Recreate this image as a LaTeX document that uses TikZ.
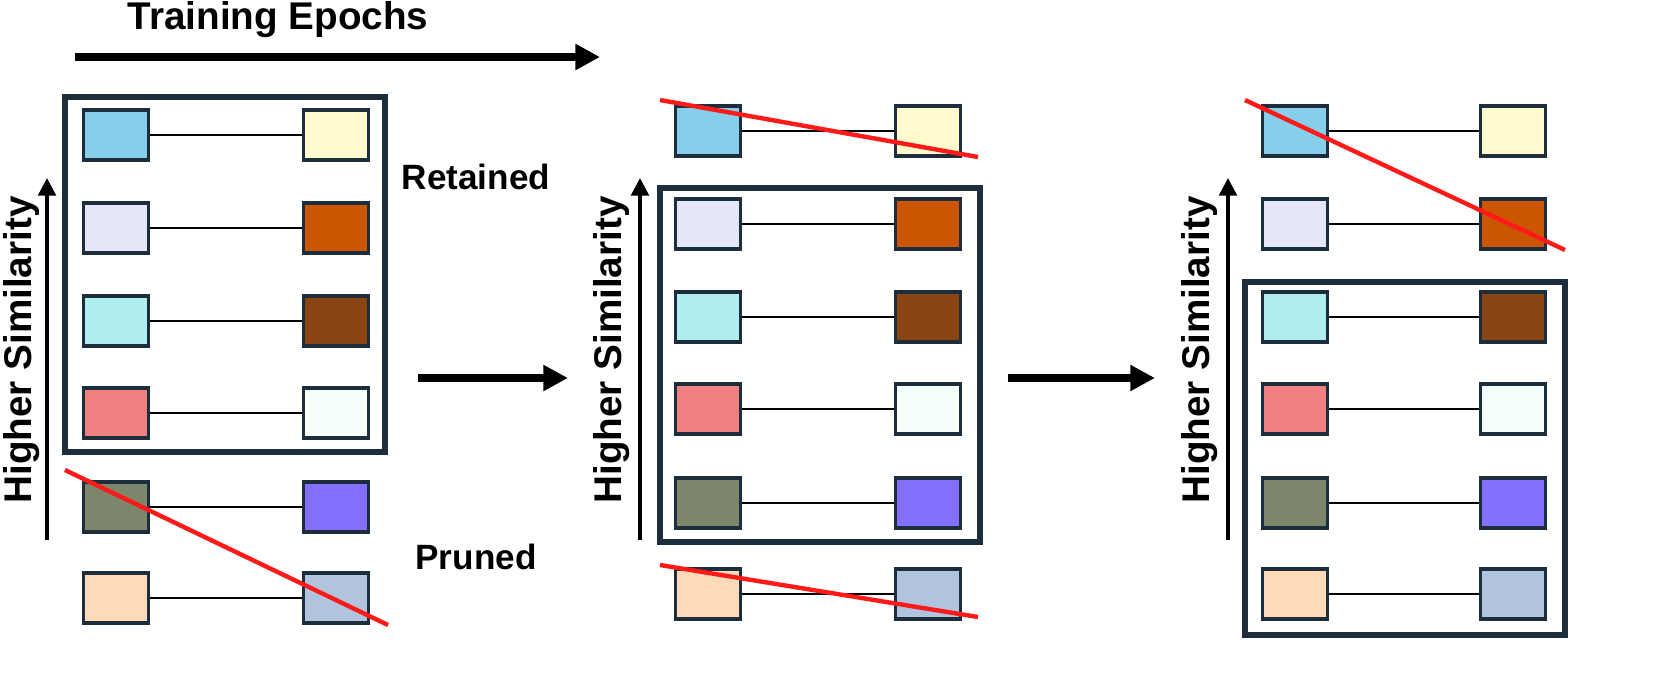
\documentclass[tikz,border=0pt]{standalone}
\usepackage{fontspec}
\setmainfont{Liberation Sans}
\usetikzlibrary{arrows.meta}
\definecolor{edgedark}{HTML}{1E2D3B}
\definecolor{cutred}{HTML}{FF1A1A}
\definecolor{cA}{HTML}{87CEEB}\definecolor{dA}{HTML}{FFFACD}
\definecolor{cB}{HTML}{E6E6FA}\definecolor{dB}{HTML}{CC5500}
\definecolor{cC}{HTML}{AFEEEE}\definecolor{dC}{HTML}{8B4513}
\definecolor{cD}{HTML}{F08080}\definecolor{dD}{HTML}{F5FFFA}
\definecolor{cE}{HTML}{7B866B}\definecolor{dE}{HTML}{8470FF}
\definecolor{cF}{HTML}{FFDAB9}\definecolor{dF}{HTML}{B0C4DE}
\tikzset{
  tok/.style={draw=edgedark, line width=2.2pt, minimum width=1.3cm, minimum height=1.0cm, inner sep=0pt},
  link/.style={line width=1.2pt},
  group/.style={draw=edgedark, line width=3pt},
  cut/.style={cutred, line width=2.5pt},
  flow/.style={-{Triangle[length=14pt,width=14pt]}, line width=4pt},
  simarrow/.style={-{Triangle[length=10pt,width=10pt]}, line width=2pt},
  lbl/.style={font=\fontsize{22}{26}\selectfont\bfseries}
}
\begin{document}
\begin{tikzpicture}[x=0.02cm, y=-0.02cm]
  % Epoch arrow
  \node[lbl] (epochs) at (278,20) {Training Epochs};
  \coordinate (e0) at (75,57); \coordinate (e1) at (600,57);
  \draw[flow] (e0) -- (e1);

  % Token pairs of the three panels
  \foreach \p/\lx/\rx/\yo in {1/116/336/0, 2/708/928/-4, 3/1295/1513/-4} {
    \foreach \r/\y/\ca/\cb in {1/135/cA/dA, 2/228/cB/dB, 3/321/cC/dC, 4/413/cD/dD, 5/507/cE/dE, 6/598/cF/dF} {
      \node[tok, fill=\ca] (p\p l\r) at (\lx,\y+\yo) {};
      \node[tok, fill=\cb] (p\p r\r) at (\rx,\y+\yo) {};
      \draw[link] (p\p l\r) -- (p\p r\r);
    }
  }

  % Retained groups
  \draw[group] (65,97) rectangle (385,452);
  \draw[group] (660,188) rectangle (980,542);
  \draw[group] (1245,282) rectangle (1565,635);

  \node[lbl, font=\fontsize{20}{24}\selectfont\bfseries] (kept) at (476,177) {Retained};
  \node[lbl, font=\fontsize{20}{24}\selectfont\bfseries] (pruned) at (476,557) {Pruned};

  % Pruned pairs
  \draw[cut] (65,470) -- (388,625);
  \draw[cut] (660,100) -- (978,157);
  \draw[cut] (660,565) -- (978,617);
  \draw[cut] (1245,100) -- (1565,250);

  % Similarity axes
  \foreach \ax/\tx in {47/22, 640/612, 1228/1200} {
    \coordinate (s0) at (\ax,540); \coordinate (s1) at (\ax,178);
    \draw[simarrow] (s0) -- (s1);
    \node[lbl, rotate=90] at (\tx,350) {Higher Similarity};
  }

  % Step arrows
  \coordinate (a0) at (418,378); \coordinate (a1) at (568,378);
  \draw[flow] (a0) -- (a1);
  \coordinate (b0) at (1008,378); \coordinate (b1) at (1155,378);
  \draw[flow] (b0) -- (b1);

  \pgfresetboundingbox
  \useasboundingbox (0,0) rectangle (1670,681);
\end{tikzpicture}
\end{document}
